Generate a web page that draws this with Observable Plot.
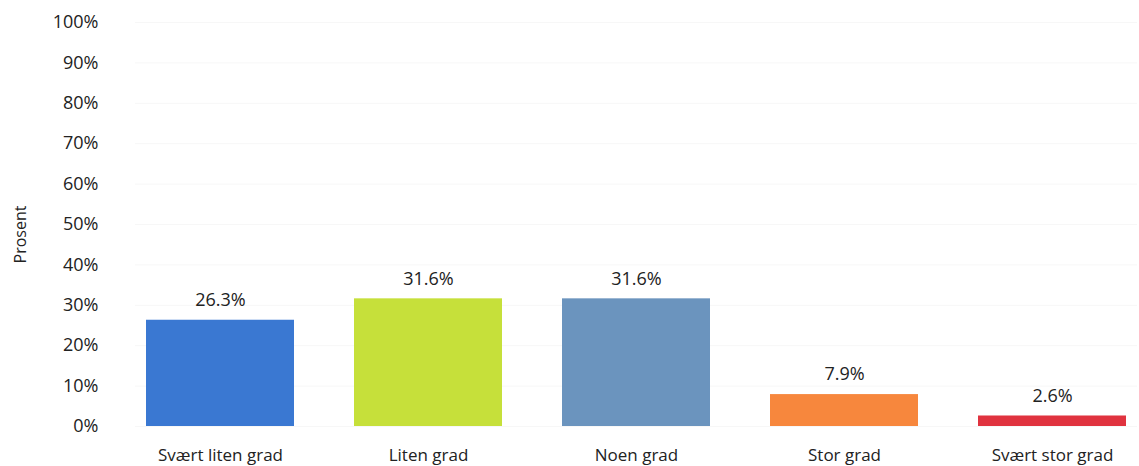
<!DOCTYPE html>
<html>
<head>
<meta charset="utf-8">
<script src="https://cdn.jsdelivr.net/npm/d3@7"></script>
<script src="https://cdn.jsdelivr.net/npm/@observablehq/plot@0.6"></script>
<style>
  html, body { margin: 0; padding: 0; background: #fff; }
  #chart svg { display: block; }
  #chart svg text { font-size: 17px; }
  #chart svg text.big { font-size: 18px; }
  #chart svg text.ylab { font-size: 16px; }
</style>
</head>
<body>
<div id="chart"></div>
<script>
const categories = ["Svært liten grad", "Liten grad", "Noen grad", "Stor grad", "Svært stor grad"];
const values = [26.3, 31.6, 31.6, 7.9, 2.6];
const colors = ["#3a78d2", "#c6e03a", "#6b94be", "#f7873d", "#e0333f"];
const yTicks = [0, 10, 20, 30, 40, 50, 60, 70, 80, 90, 100];

const data = categories.map((c, i) => ({ category: c, value: values[i], color: colors[i] }));

const font = "'Open Sans', 'Liberation Sans', sans-serif";

const chart = Plot.plot({
  width: 1139,
  height: 466,
  marginTop: 22,
  marginBottom: 40,
  marginLeft: 135,
  marginRight: 2,
  style: { fontFamily: font, fontSize: "17px", color: "#222", background: "#fff" },
  x: { domain: categories, paddingInner: 0.29, paddingOuter: 0.05, label: null },
  y: { domain: [0, 100], label: null },
  marks: [
    Plot.gridY(yTicks, { stroke: "#f7f7f7", strokeOpacity: 1 }),
    Plot.axisY(yTicks, {
      tickSize: 0, tickPadding: 37, tickFormat: d => d + "%",
      fontSize: 18, fill: "#222",
      label: "Prosent", labelAnchor: "center", labelOffset: 121, labelArrow: "none"
    }),
    Plot.axisX({ tickSize: 0, tickPadding: 22, fontSize: 17, fill: "#222", label: null }),
    Plot.barY(data, { x: "category", y: "value", fill: "color" }),
    Plot.text(data, {
      x: "category", y: "value", text: d => d.value.toFixed(1) + "%",
      dy: -20, fontSize: 18, fill: "#222"
    })
  ]
});
document.getElementById("chart").appendChild(chart);
// size tweaks: y tick labels and value labels slightly larger, axis title smaller
chart.querySelectorAll("text").forEach(t => {
  const s = t.textContent;
  if (s === "Prosent") {
    t.classList.add("ylab");
    const tr = t.getAttribute("transform") || "";
    t.setAttribute("transform", "translate(0,10) " + tr);
  } else if (/%$/.test(s)) {
    t.classList.add("big");
  }
});
</script>
</body>
</html>
